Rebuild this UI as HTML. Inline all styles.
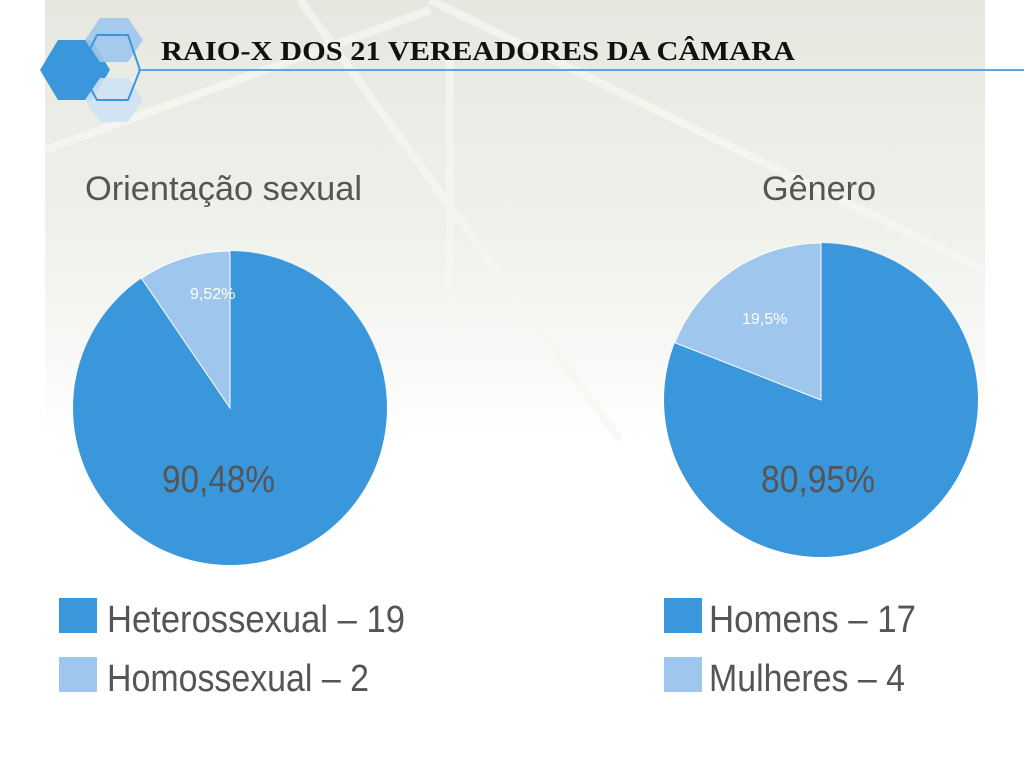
<!DOCTYPE html>
<html><head><meta charset="utf-8"><style>
html,body{margin:0;padding:0;background:#fff;}
svg{display:block}
</style></head><body>
<svg width="1024" height="774" viewBox="0 0 1024 774" xmlns="http://www.w3.org/2000/svg">
<defs>
<linearGradient id="bg" x1="0" y1="0" x2="0" y2="1">
<stop offset="0" stop-color="#e6e8e0"/>
<stop offset="0.5" stop-color="#eef0ea"/>
<stop offset="1" stop-color="#ffffff"/>
</linearGradient>
</defs>
<rect x="45" y="0" width="940" height="440" fill="url(#bg)"/>
<g stroke="#f6f6f2" stroke-width="8" opacity="0.8" fill="none">
<line x1="300" y1="0" x2="620" y2="440"/>
<line x1="430" y1="0" x2="985" y2="270"/>
<line x1="450" y1="60" x2="450" y2="330"/>
<line x1="45" y1="150" x2="430" y2="10"/>
</g>
<!-- hexagons -->
<polygon points="40,70 58,40 92,40 110,70 92,100 58,100" fill="#3b97dc"/>
<polygon points="85,40 100,18 128,18 143,40 128,62 100,62" fill="#9fc6ec" opacity="0.9"/>
<polygon points="85,100 100,78 128,78 143,100 128,122 100,122" fill="#cfe2f5" opacity="0.9"/>
<polygon points="80,70 97,35 128,35 140,70 128,100 97,100" fill="none" stroke="#3b97dc" stroke-width="2"/>
<line x1="138" y1="70" x2="1024" y2="70" stroke="#5aa6e0" stroke-width="2"/>
<text x="161" y="60" font-family="Liberation Serif, serif" font-weight="bold" font-size="27" fill="#111" textLength="634" lengthAdjust="spacingAndGlyphs">RAIO-X DOS 21 VEREADORES DA CÂMARA</text>
<text x="85" y="200" font-family="Liberation Sans, sans-serif" font-size="34" fill="#555" textLength="277" lengthAdjust="spacingAndGlyphs">Orientação sexual</text>
<text x="762" y="200" font-family="Liberation Sans, sans-serif" font-size="34" fill="#555" textLength="114" lengthAdjust="spacingAndGlyphs">Gênero</text>
<!-- pie 1 -->
<circle cx="230" cy="408" r="157" fill="#3b97dc"/>
<path d="M230,408 L230,251 A157,157 0 0 0 141.5,278.3 Z" fill="#9fc6ec" stroke="#fff" stroke-width="1"/>
<text x="190" y="299" font-family="Liberation Sans, sans-serif" font-size="16" fill="#fff">9,52%</text>
<text x="162" y="492" font-family="Liberation Sans, sans-serif" font-size="38" fill="#555" textLength="113" lengthAdjust="spacingAndGlyphs">90,48%</text>
<!-- pie 2 -->
<circle cx="821" cy="400" r="157" fill="#3b97dc"/>
<path d="M821,400 L821,243 A157,157 0 0 0 674.8,342.7 Z" fill="#9fc6ec" stroke="#fff" stroke-width="1"/>
<text x="742" y="324" font-family="Liberation Sans, sans-serif" font-size="16" fill="#fff">19,5%</text>
<text x="761" y="492" font-family="Liberation Sans, sans-serif" font-size="38" fill="#555" textLength="114" lengthAdjust="spacingAndGlyphs">80,95%</text>
<!-- legends -->
<rect x="59" y="598" width="38" height="35" fill="#3b97dc"/>
<rect x="59" y="657" width="38" height="35" fill="#9fc6ec"/>
<text x="107" y="632" font-family="Liberation Sans, sans-serif" font-size="38" fill="#555" textLength="298" lengthAdjust="spacingAndGlyphs">Heterossexual  – 19</text>
<text x="107" y="691" font-family="Liberation Sans, sans-serif" font-size="38" fill="#555" textLength="262" lengthAdjust="spacingAndGlyphs">Homossexual – 2</text>
<rect x="664" y="598" width="38" height="35" fill="#3b97dc"/>
<rect x="664" y="657" width="38" height="35" fill="#9fc6ec"/>
<text x="709" y="632" font-family="Liberation Sans, sans-serif" font-size="38" fill="#555" textLength="207" lengthAdjust="spacingAndGlyphs">Homens  – 17</text>
<text x="709" y="691" font-family="Liberation Sans, sans-serif" font-size="38" fill="#555" textLength="196" lengthAdjust="spacingAndGlyphs">Mulheres – 4</text>
</svg>
</body></html>
